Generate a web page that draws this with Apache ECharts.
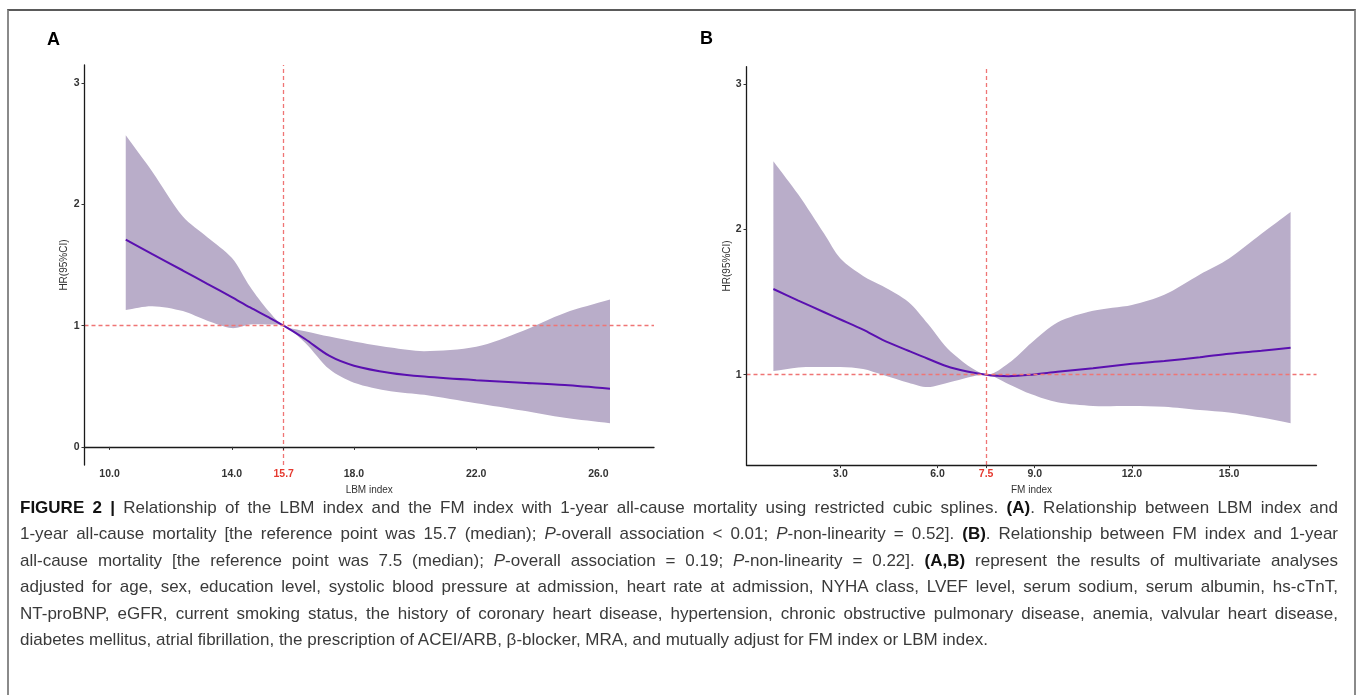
<!DOCTYPE html>
<html lang="en">
<head>
    <meta charset="utf-8">
    <title>FIGURE 2 - restricted cubic splines</title>
    <script src="https://cdn.jsdelivr.net/npm/echarts@6/dist/echarts.min.js"></script>
    <style>
        body { margin: 0; background: #fff; }
        #frame { position: absolute; left: 7px; top: 9px; width: 1349px; height: 720px; border: 2px solid #8a8a8a; border-top-color: #5a5a5a; box-sizing: border-box; }
        #main { position: absolute; left: 0; top: 0; width: 1360px; height: 500px; }
        #caption { position: absolute; left: 20px; top: 495px; width: 1318px; font-family: "Liberation Sans", Arial, sans-serif; font-size: 17px; line-height: 26.4px; color: #3a3a3a; }
        #caption div { white-space: nowrap; text-align: justify; text-align-last: justify; }
        #caption div.last { text-align-last: left; }
        #caption b { color: #111; }
    </style>
</head>
<body>
<div id="frame"></div>
<div id="main"></div>
<div id="caption">
    <div><b>FIGURE 2 |</b> Relationship of the LBM index and the FM index with 1-year all-cause mortality using restricted cubic splines. <b>(A)</b>. Relationship between LBM index and</div>
    <div>1-year all-cause mortality [the reference point was 15.7 (median); <i>P</i>-overall association &lt; 0.01; <i>P</i>-non-linearity = 0.52]. <b>(B)</b>. Relationship between FM index and 1-year</div>
    <div>all-cause mortality [the reference point was 7.5 (median); <i>P</i>-overall association = 0.19; <i>P</i>-non-linearity = 0.22]. <b>(A,B)</b> represent the results of multivariate analyses</div>
    <div>adjusted for age, sex, education level, systolic blood pressure at admission, heart rate at admission, NYHA class, LVEF level, serum sodium, serum albumin, hs-cTnT,</div>
    <div>NT-proBNP, eGFR, current smoking status, the history of coronary heart disease, hypertension, chronic obstructive pulmonary disease, anemia, valvular heart disease,</div>
    <div class="last">diabetes mellitus, atrial fibrillation, the prescription of ACEI/ARB, β-blocker, MRA, and mutually adjust for FM index or LBM index.</div>
</div>

<script type="text/javascript">
    // panel A: LBM index
    var lbmX     = [10.53, 11.4, 12.4, 13.2, 14.0, 14.6, 15.2, 15.7, 16.4, 17.2, 18.0, 19.2, 20.3, 22.0, 23.5, 24.9, 26.38];
    var lbmHR    = [1.71, 1.59, 1.455, 1.345, 1.235, 1.15, 1.07, 1.0, 0.89, 0.75, 0.67, 0.61, 0.58, 0.55, 0.53, 0.51, 0.48];
    var lbmLower = [1.13, 1.16, 1.12, 1.04, 0.98, 1.01, 1.01, 1.0, 0.86, 0.64, 0.53, 0.46, 0.43, 0.36, 0.30, 0.24, 0.195];
    var lbmUpper = [2.57, 2.27, 1.90, 1.73, 1.56, 1.32, 1.12, 1.0, 0.955, 0.91, 0.87, 0.82, 0.79, 0.826, 0.955, 1.105, 1.215];
    var lbmTicks = [10, 14, 15.7, 18, 22, 26];
    var lbmRef   = 15.7;

    // panel B: FM index
    var fmX     = [0.93, 1.7, 2.5, 3.0, 3.7, 4.3, 5.1, 5.7, 6.4, 7.5, 8.2, 8.9, 9.7, 10.8, 12.0, 13.0, 14.1, 15.0, 16.0, 16.9];
    var fmHR    = [1.59, 1.51, 1.43, 1.38, 1.31, 1.24, 1.165, 1.11, 1.05, 1.0, 0.99, 1.0, 1.02, 1.045, 1.075, 1.095, 1.12, 1.145, 1.165, 1.185];
    var fmLower = [1.025, 1.05, 1.053, 1.053, 1.04, 1.0, 0.945, 0.915, 0.95, 1.0, 0.935, 0.865, 0.81, 0.785, 0.785, 0.78, 0.757, 0.74, 0.705, 0.666];
    var fmUpper = [2.47, 2.24, 1.97, 1.80, 1.68, 1.61, 1.50, 1.35, 1.16, 1.0, 1.08, 1.22, 1.36, 1.44, 1.48, 1.55, 1.69, 1.80, 1.97, 2.12];
    var fmTicks = [3, 6, 7.5, 9, 12, 15];
    var fmRef   = 7.5;

    var hrTicksA = [0, 1, 2, 3];
    var hrTicksB = [1, 2, 3];

    var bandColor = '#b9adc9';
    var lineColor = '#5a10b0';
    var refColor  = '#ef7575';

    function pairs(xs, ys) {
        return xs.map(function (x, i) { return [x, ys[i]]; });
    }

    function xAxisFor(idx, name, min, max, ticks, ref) {
        return {
            type: 'value', gridIndex: idx, min: min, max: max, z: 10,
            name: name, nameLocation: 'middle', nameGap: 16,
            nameTextStyle: { fontSize: 10, color: '#333', fontFamily: 'Liberation Sans' },
            axisLine: { lineStyle: { color: '#1a1a1a', width: 1.3 } },
            axisTick: { show: true, length: 3, customValues: ticks, lineStyle: { color: '#333' } },
            splitLine: { show: false },
            axisLabel: {
                customValues: ticks, margin: 4, fontSize: 10.5, fontWeight: 'bold', color: '#333',
                fontFamily: 'Liberation Sans',
                formatter: function (v) {
                    var s = v.toFixed(1);
                    return Math.abs(v - ref) < 1e-6 ? '{r|' + s + '}' : s;
                },
                rich: { r: { color: '#e53a30', fontSize: 10.5, fontWeight: 'bold', fontFamily: 'Liberation Sans' } }
            }
        };
    }
    function yAxisFor(idx, min, max, ticks, gap) {
        return {
            type: 'value', gridIndex: idx, min: min, max: max, z: 10,
            name: 'HR(95%CI)', nameLocation: 'middle', nameGap: gap,
            nameTextStyle: { fontSize: 10, color: '#333', fontFamily: 'Liberation Sans' },
            axisLine: { show: true, lineStyle: { color: '#1a1a1a', width: 1.3 } },
            axisTick: { show: true, length: 3, customValues: ticks, lineStyle: { color: '#333' } },
            splitLine: { show: false },
            axisLabel: { customValues: ticks, margin: 5, fontSize: 10.5, fontWeight: 'bold', color: '#333', fontFamily: 'Liberation Sans' }
        };
    }

    // 95% CI band drawn as one smoothed polygon (upper edge, then lower edge back)
    function bandSeries(idx, xs, lo, hi) {
        return {
            type: 'custom', xAxisIndex: idx, yAxisIndex: idx, silent: true, z: 2,
            data: xs.map(function (x, i) { return [x, lo[i], hi[i]]; }),
            encode: { x: 0, y: [1, 2] },
            renderItem: function (params, api) {
                if (params.dataIndex !== 0) return null;
                var n = xs.length, pts = [], i;
                for (i = 0; i < n; i++) pts.push(api.coord([xs[i], hi[i]]));
                // doubled corner points keep the two end edges straight
                pts.push(api.coord([xs[n - 1], hi[n - 1]]));
                pts.push(api.coord([xs[n - 1], lo[n - 1]]));
                for (i = n - 1; i >= 0; i--) pts.push(api.coord([xs[i], lo[i]]));
                pts.push(api.coord([xs[0], lo[0]]));
                pts.push(api.coord([xs[0], hi[0]]));
                return {
                    type: 'polygon',
                    shape: { points: pts, smooth: 0.3 },
                    style: { fill: bandColor, stroke: null }
                };
            }
        };
    }
    function hrSeries(idx, xs, hr, ref) {
        return {
            type: 'line', xAxisIndex: idx, yAxisIndex: idx, z: 4,
            data: pairs(xs, hr), smooth: 0.3, symbol: 'none', silent: true,
            lineStyle: { color: lineColor, width: 2 },
            markLine: {
                silent: true, symbol: 'none', label: { show: false },
                lineStyle: { color: refColor, width: 1.3, type: [4, 3] },
                data: [{ xAxis: ref }, { yAxis: 1 }]
            }
        };
    }

    var myChart = echarts.init(document.getElementById('main'));

    var option = {
        animation: false,
        textStyle: { fontFamily: 'Liberation Sans' },
        grid: [
            { left: 84.5, top: 65, width: 569.5, height: 401 },
            { left: 746.5, top: 66.7, width: 570, height: 399.3 }
        ],
        xAxis: [
            xAxisFor(0, 'LBM index', 9.18, 27.82, lbmTicks, lbmRef),
            xAxisFor(1, 'FM index', 0.1, 17.7, fmTicks, fmRef)
        ],
        yAxis: [
            yAxisFor(0, -0.15, 3.15, hrTicksA, 15),
            yAxisFor(1, 0.378, 3.12, hrTicksB, 14)
        ],
        graphic: [
            { type: 'text', left: 47, top: 31, style: { text: 'A', font: 'bold 18px "Liberation Sans"', fill: '#000' } },
            { type: 'text', left: 700, top: 30, style: { text: 'B', font: 'bold 18px "Liberation Sans"', fill: '#000' } }
        ],
        series: [
            bandSeries(0, lbmX, lbmLower, lbmUpper),
            hrSeries(0, lbmX, lbmHR, lbmRef),
            bandSeries(1, fmX, fmLower, fmUpper),
            hrSeries(1, fmX, fmHR, fmRef)
        ]
    };

    option && myChart.setOption(option);
</script>
</body>
</html>
